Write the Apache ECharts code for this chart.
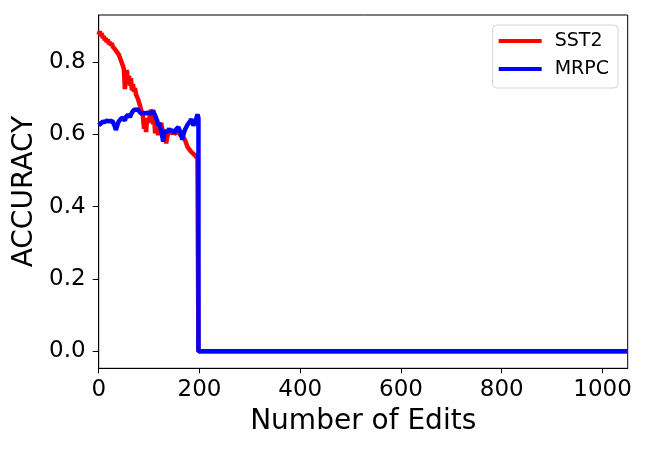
<!DOCTYPE html>
<html>
<head>
<meta charset="utf-8">
<script src="https://cdn.jsdelivr.net/npm/echarts@6/dist/echarts.min.js"></script>
<style>html,body{margin:0;padding:0;background:#fff}#c{width:650px;height:450px}</style>
</head>
<body>
<div id="c"></div>
<script>
var edits = [0,2,4,6,8,10,12,14,16,18,20,22,24,26,28,30,32,34,36,38,40,42,44,46,48,50,52,54,56,58,60,62,64,66,68,70,72,74,76,78,80,82,84,86,88,90,92,94,96,98,100,102,104,106,108,110,112,114,116,118,120,122,124,126,128,130,132,134,136,138,140,142,144,146,148,150,152,154,156,158,160,162,164,166,168,170,172,174,176,178,180,182,184,186,188,190,192,194,196,198,198,1050];
var sst2 = [0.875,0.885,0.872,0.880,0.866,0.872,0.860,0.866,0.855,0.862,0.850,0.856,0.846,0.852,0.842,0.846,0.836,0.840,0.828,0.832,0.820,0.815,0.805,0.800,0.790,0.780,0.725,0.765,0.778,0.742,0.762,0.735,0.755,0.722,0.738,0.718,0.728,0.710,0.705,0.698,0.688,0.680,0.668,0.660,0.648,0.615,0.640,0.606,0.645,0.632,0.642,0.655,0.668,0.652,0.628,0.650,0.603,0.626,0.610,0.598,0.612,0.622,0.632,0.616,0.604,0.612,0.598,0.575,0.592,0.605,0.614,0.603,0.598,0.606,0.612,0.600,0.596,0.606,0.613,0.606,0.602,0.598,0.600,0.594,0.590,0.588,0.582,0.574,0.566,0.562,0.558,0.555,0.551,0.549,0.546,0.542,0.540,0.537,0.534,0.530,0,0];
var mrpc = [0.625,0.620,0.630,0.626,0.635,0.630,0.634,0.630,0.638,0.633,0.636,0.640,0.637,0.632,0.635,0.628,0.622,0.612,0.620,0.630,0.636,0.640,0.643,0.640,0.646,0.642,0.638,0.648,0.650,0.654,0.652,0.648,0.654,0.660,0.663,0.668,0.673,0.668,0.666,0.669,0.664,0.660,0.663,0.658,0.662,0.659,0.655,0.658,0.656,0.660,0.663,0.657,0.654,0.660,0.666,0.658,0.652,0.645,0.638,0.625,0.632,0.620,0.610,0.596,0.580,0.600,0.612,0.605,0.600,0.610,0.616,0.608,0.606,0.612,0.614,0.604,0.606,0.614,0.616,0.620,0.618,0.606,0.598,0.585,0.598,0.608,0.615,0.620,0.626,0.630,0.633,0.637,0.642,0.632,0.625,0.630,0.635,0.645,0.655,0.645,0,0];
var xTicks = [0,200,400,600,800,1000];
var yTicks = [0,0.2,0.4,0.6,0.8];

function pairs(xs, ys){ return xs.map(function(x,i){ return [x, ys[i]]; }); }

var chart = echarts.init(document.getElementById('c'), null, {renderer:'canvas'});
var font = 'DejaVu Sans';
chart.setOption({
  animation: false,
  textStyle: {fontFamily: font},
  grid: {left: 98.7, right: 22.3, top: 15, bottom: 81.7, show: true, borderColor: '#000', borderWidth: 1, containLabel: false},
  legend: {
    orient: 'vertical', right: 32, top: 25,
    padding: [6, 9, 9, 6], itemGap: 8,
    itemWidth: 43, itemHeight: 4, icon: 'rect',
    borderColor: '#d3d3d3', borderWidth: 1, borderRadius: 4,
    backgroundColor: '#fff',
    textStyle: {fontFamily: font, fontSize: 19, color: '#000', lineHeight: 20, padding: [0,0,0,8]},
    data: ['SST2','MRPC']
  },
  xAxis: {
    type: 'value', min: 0, max: 1050,
    name: 'Number of Edits', nameLocation: 'middle', nameGap: 39,
    nameTextStyle: {fontFamily: font, fontSize: 28, color: '#000'},
    axisLine: {show: true, onZero: false, lineStyle: {color: '#000', width: 1}},
    axisTick: {show: true, length: 5, inside: false, lineStyle: {color: '#000'}, customValues: xTicks},
    axisLabel: {fontFamily: font, fontSize: 23, color: '#000', margin: 10, customValues: xTicks,
      formatter: function(v){ return String(v); }},
    splitLine: {show: false}
  },
  yAxis: {
    type: 'value', min: -0.047, max: 0.930,
    name: 'ACCURACY', nameLocation: 'middle', nameGap: 58, nameRotate: 90,
    nameTextStyle: {fontFamily: font, fontSize: 28, color: '#000'},
    axisLine: {show: true, onZero: false, lineStyle: {color: '#000', width: 1}},
    axisTick: {show: true, length: 6, lineStyle: {color: '#000'}, customValues: yTicks},
    axisLabel: {fontFamily: font, fontSize: 23, color: '#000', margin: 13, customValues: yTicks,
      formatter: function(v){ return v.toFixed(1); }},
    splitLine: {show: false}
  },
  series: [
    {name: 'SST2', type: 'line', data: pairs(edits, sst2), showSymbol: false, symbol: 'none',
     lineStyle: {color: '#ff0000', width: 4.5}, itemStyle: {color: '#ff0000'}, z: 2},
    {name: 'MRPC', type: 'line', data: pairs(edits, mrpc), showSymbol: false, symbol: 'none',
     lineStyle: {color: '#0000ff', width: 4.5}, itemStyle: {color: '#0000ff'}, z: 3}
  ]
});
</script>
</body>
</html>
